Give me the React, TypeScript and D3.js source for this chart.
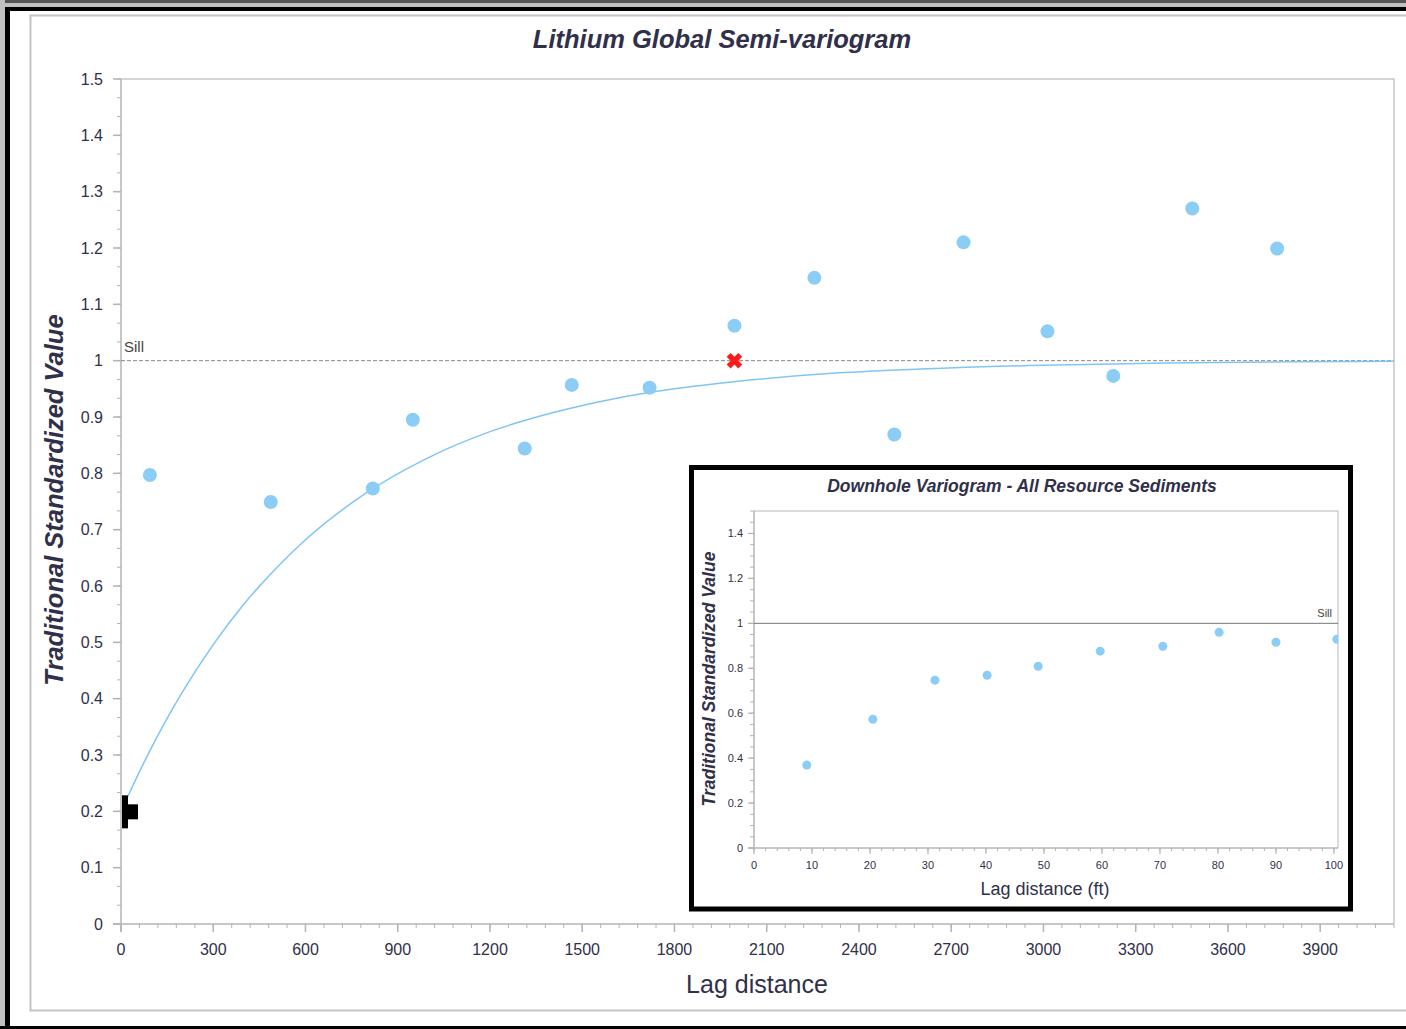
import React from "react";
import * as d3 from "d3";

// Main chart: experimental semi-variogram points (lag distance, value)
const lagDist = [94, 487, 819, 949, 1313, 1466, 1719, 1995, 2255, 2515, 2740, 3013, 3227, 3484, 3760];
const gammaVal = [0.797, 0.749, 0.773, 0.895, 0.844, 0.957, 0.952, 1.062, 1.147, 0.869, 1.21, 1.052, 0.973, 1.27, 1.199];

// Fitted model curve
const modelLag = [20, 50, 100, 150, 200, 300, 400, 500, 600, 800, 1000, 1200, 1400, 1600, 1800, 2000, 2300, 2600, 3000, 3400, 3800, 4140];
const modelVal = [0.224, 0.259, 0.314, 0.365, 0.412, 0.496, 0.568, 0.629, 0.682, 0.766, 0.828, 0.874, 0.907, 0.932, 0.95, 0.963, 0.977, 0.985, 0.992, 0.996, 0.998, 0.999];

const sillValue = 1;
const nuggetValue = 0.2;
const rangeMarker = [1995, 1.0];

const xTickValues = [0, 300, 600, 900, 1200, 1500, 1800, 2100, 2400, 2700, 3000, 3300, 3600, 3900];
const yTickValues = [0, 0.1, 0.2, 0.3, 0.4, 0.5, 0.6, 0.7, 0.8, 0.9, 1, 1.1, 1.2, 1.3, 1.4, 1.5];

// Inset: downhole variogram
const insetLag = [9.1, 20.5, 31.2, 40.2, 49.0, 59.7, 70.5, 80.2, 90.0, 100.5];
const insetVal = [0.369, 0.573, 0.747, 0.769, 0.809, 0.876, 0.898, 0.96, 0.916, 0.929];
const insetXTicks = [0, 10, 20, 30, 40, 50, 60, 70, 80, 90, 100];
const insetYTicks = [0, 0.2, 0.4, 0.6, 0.8, 1, 1.2, 1.4];

const TXT = "#30304a";
const AX = "#b4b4b4";
const PT = "#8ccdf5";
const FONT = "'Liberation Sans', Arial, sans-serif";

export default function App() {
  // main scales
  const x = d3.scaleLinear().domain([0, 4140]).range([121, 1394]);
  const y = d3.scaleLinear().domain([0, 1.5]).range([924, 79]);
  const minorX = d3.range(0, 4141, 60);
  const minorY = d3.range(0, 46).map((i) => i / 30);

  const line = d3
    .line<number>()
    .x((_, i) => x(modelLag[i]))
    .y((d) => y(d))
    .curve(d3.curveMonotoneX);

  // inset scales
  const ix = d3.scaleLinear().domain([0, 100.7]).range([754, 1338]);
  const iy = d3.scaleLinear().domain([0, 1.5]).range([848, 511]);
  const iMinorX = d3.range(0, 101, 2);
  const iMinorY = d3.range(0, 31).map((i) => i * 0.05);

  const cross = d3.symbol().type(d3.symbolCross).size(150)();

  return (
    <svg width={1406} height={1029} style={{ position: "absolute", left: 0, top: 0, background: "#fff" }} fontFamily={FONT}>
      {/* window frame */}
      <rect x={0} y={0} width={1406} height={3} fill="#555" />
      <rect x={0} y={3} width={1406} height={4} fill="#c0c0c0" />
      <rect x={0} y={7} width={1406} height={4} fill="#000" />
      <rect x={0} y={0} width={5} height={1029} fill="#c0c0c0" />
      <rect x={5} y={7} width={5} height={1022} fill="#000" />
      <rect x={0} y={1026} width={1406} height={3} fill="#000" />
      <path d="M1406,15.5 H30.5 V1010.5 H1406" fill="none" stroke="#c4c4c8" strokeWidth={2} />

      {/* title */}
      <text x={722} y={48} textAnchor="middle" fontSize={25.5} fontWeight="bold" fontStyle="italic" fill={TXT}>
        Lithium Global Semi-variogram
      </text>

      {/* plot border */}
      <path d={`M${x(0)},${y(1.5)} H${x(4140)} V${y(0)}`} fill="none" stroke="#c8c8c8" strokeWidth={1.5} />
      {/* axes */}
      <line x1={x(0)} x2={x(0)} y1={y(1.5)} y2={y(0) + 8} stroke={AX} strokeWidth={1.5} />
      <line x1={x(0) - 8} x2={x(4140)} y1={y(0)} y2={y(0)} stroke={AX} strokeWidth={1.5} />
      {minorY.map((v, i) => (
        <line key={"my" + i} x1={x(0) - 4} x2={x(0)} y1={y(v)} y2={y(v)} stroke={AX} strokeWidth={1} />
      ))}
      {yTickValues.map((v) => (
        <g key={"yt" + v}>
          <line x1={x(0) - 8} x2={x(0)} y1={y(v)} y2={y(v)} stroke={AX} strokeWidth={1.5} />
          <text x={103} y={y(v) + 5.5} textAnchor="end" fontSize={16} fill={TXT}>
            {d3.format("~g")(v)}
          </text>
        </g>
      ))}
      {minorX.map((v) => (
        <line key={"mx" + v} x1={x(v)} x2={x(v)} y1={y(0)} y2={y(0) + 4} stroke={AX} strokeWidth={1} />
      ))}
      {xTickValues.map((v) => (
        <g key={"xt" + v}>
          <line x1={x(v)} x2={x(v)} y1={y(0)} y2={y(0) + 8} stroke={AX} strokeWidth={1.5} />
          <text x={x(v)} y={955} textAnchor="middle" fontSize={16} fill={TXT}>
            {v}
          </text>
        </g>
      ))}

      {/* axis titles */}
      <text x={757} y={993} textAnchor="middle" fontSize={25} fill={TXT}>
        Lag distance
      </text>
      <text
        transform={`translate(63,${500}) rotate(-90)`}
        textAnchor="middle"
        fontSize={25.5}
        fontWeight="bold"
        fontStyle="italic"
        fill={TXT}
      >
        Traditional Standardized Value
      </text>

      {/* sill */}
      <line x1={x(0)} x2={x(4140)} y1={y(sillValue)} y2={y(sillValue)} stroke="#888" strokeWidth={1} strokeDasharray="4,2" />
      <text x={124} y={352} fontSize={15} fill="#444">
        Sill
      </text>

      {/* model curve */}
      <path d={line(modelVal) || ""} fill="none" stroke="#7fc6f4" strokeWidth={1.5} />

      {/* nugget marker */}
      <rect x={x(0) + 1} y={y(nuggetValue) - 16} width={6} height={33} fill="#000" />
      <rect x={x(0) + 7} y={y(nuggetValue) - 7} width={10} height={15} fill="#000" />

      {/* points */}
      {lagDist.map((d, i) => (
        <circle key={"p" + i} cx={x(d)} cy={y(gammaVal[i])} r={7} fill={PT} />
      ))}

      {/* range marker */}
      <path d={cross} transform={`translate(${x(rangeMarker[0])},${y(rangeMarker[1])}) rotate(45)`} fill="#ff1a1a" />

      {/* inset */}
      <rect x={691.5} y={467.5} width={659} height={441.5} fill="#fff" stroke="#000" strokeWidth={5} />
      <text x={1022} y={492} textAnchor="middle" fontSize={17.5} fontWeight="bold" fontStyle="italic" fill={TXT}>
        Downhole Variogram - All Resource Sediments
      </text>
      <path d={`M${ix(0)},${iy(1.5)} H${ix(100.7)} V${iy(0)}`} fill="none" stroke="#cfcfcf" strokeWidth={1.5} />
      <line x1={ix(0)} x2={ix(0)} y1={iy(1.5)} y2={iy(0)} stroke={AX} strokeWidth={1.5} />
      <line x1={ix(0) - 6} x2={ix(100.7)} y1={iy(0)} y2={iy(0)} stroke={AX} strokeWidth={1.5} />
      {iMinorY.map((v, i) => (
        <line key={"imy" + i} x1={ix(0) - 4} x2={ix(0)} y1={iy(v)} y2={iy(v)} stroke={AX} strokeWidth={1} />
      ))}
      {insetYTicks.map((v) => (
        <g key={"iyt" + v}>
          <line x1={ix(0) - 6} x2={ix(0)} y1={iy(v)} y2={iy(v)} stroke={AX} strokeWidth={1.2} />
          <text x={743} y={iy(v) + 4} textAnchor="end" fontSize={11} fill={TXT}>
            {d3.format("~g")(v)}
          </text>
        </g>
      ))}
      {iMinorX.map((v) => (
        <line key={"imx" + v} x1={ix(v)} x2={ix(v)} y1={iy(0)} y2={iy(0) + 3} stroke={AX} strokeWidth={1} />
      ))}
      {insetXTicks.map((v) => (
        <g key={"ixt" + v}>
          <line x1={ix(v)} x2={ix(v)} y1={iy(0)} y2={iy(0) + 6} stroke={AX} strokeWidth={1.2} />
          <text x={ix(v)} y={869} textAnchor="middle" fontSize={11} fill={TXT}>
            {v}
          </text>
        </g>
      ))}
      <line x1={ix(0)} x2={ix(100.7)} y1={iy(sillValue)} y2={iy(sillValue)} stroke="#777" strokeWidth={1} />
      <text x={1332} y={617} textAnchor="end" fontSize={11} fill="#444">
        Sill
      </text>
      <defs>
        <clipPath id="insetClip">
          <rect x={ix(0)} y={iy(1.5)} width={ix(100.7) - ix(0)} height={iy(0) - iy(1.5)} />
        </clipPath>
      </defs>
      <g clipPath="url(#insetClip)">
        {insetLag.map((d, i) => (
          <circle key={"ip" + i} cx={ix(d)} cy={iy(insetVal[i])} r={4.5} fill={PT} />
        ))}
      </g>
      <text x={1045} y={895} textAnchor="middle" fontSize={18} fill={TXT}>
        Lag distance (ft)
      </text>
      <text
        transform={`translate(715,${679}) rotate(-90)`}
        textAnchor="middle"
        fontSize={17.5}
        fontWeight="bold"
        fontStyle="italic"
        fill={TXT}
      >
        Traditional Standardized Value
      </text>
    </svg>
  );
}
